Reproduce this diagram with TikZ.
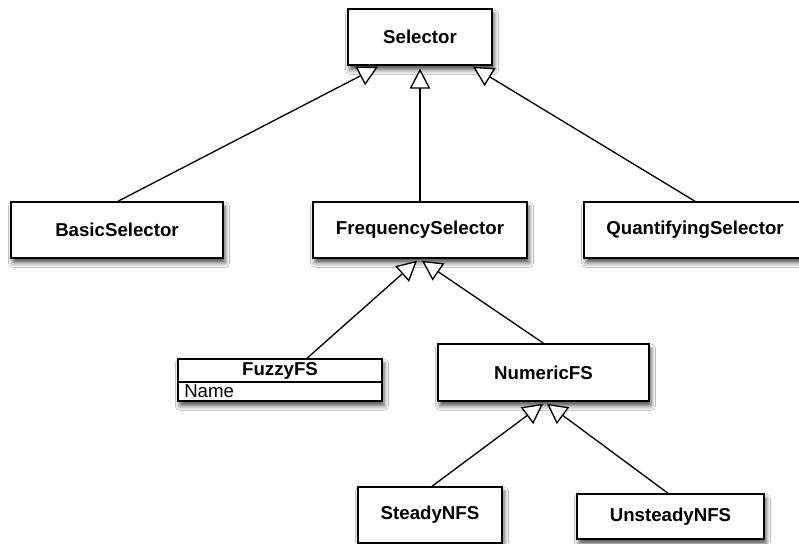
\documentclass[tikz,border=0pt]{standalone}
\usepackage{fontspec}
\setmainfont{Liberation Sans}
\usetikzlibrary{arrows.meta,calc,shadows.blur}
\begin{document}
\begin{tikzpicture}[x=0.75pt,y=-0.75pt,
  cls/.style={draw=black, line width=1.1pt, fill=white, rectangle, inner sep=0pt,
    font=\fontsize{14}{16}\selectfont\bfseries,
    blur shadow={shadow xshift=1.5pt, shadow yshift=-3.5pt, shadow blur radius=3.5pt, shadow opacity=70}},
  gen/.style={line width=1pt, -{Triangle[open,length=15pt,width=15.5pt,fill=white]}},
  txt/.style={inner sep=0pt, font=\fontsize{14}{16}\selectfont}
]
\useasboundingbox (0,0) rectangle (799,543);
\clip (0,0) rectangle (799,543);
\fill[white] (0,0) rectangle (799,543);

\node[cls, minimum width=108pt, minimum height=42pt] (sel) at (420,37) {Selector};
\node[cls, minimum width=159pt, minimum height=42pt] (basic) at (117,230) {BasicSelector};
\node[cls, minimum width=160.5pt, minimum height=42pt] (freq) at (420,230) {FrequencySelector};
\node[cls, minimum width=166.5pt, minimum height=42pt] (quant) at (695,230) {QuantifyingSelector};
\node[cls, minimum width=153pt, minimum height=31.5pt] (fuzzy) at (280,380) {};
\node[txt, font=\fontsize{14}{16}\selectfont\bfseries] (fuzzyname) at (280,370.5) {FuzzyFS};
\node[txt, anchor=west] (fuzzyattr) at (184,391.5) {Name};
\draw[line width=1.1pt] (fuzzy.west |- 0,382) -- (fuzzy.east |- 0,382);
\node[cls, minimum width=158.25pt, minimum height=42.75pt] (numeric) at (543.5,372.5) {NumericFS};
\node[cls, minimum width=108pt, minimum height=42pt] (steady) at (430,515) {SteadyNFS};
\node[cls, minimum width=140.25pt, minimum height=33.75pt] (unsteady) at (670.5,516.5) {UnsteadyNFS};

\draw[gen] ($(basic.north)+(1,0)$) -- ($(sel.south)+(-42,1)$);
\draw[gen] (freq.north) -- ($(sel.south)+(0,3)$);
\draw[gen] (quant.north) -- ($(sel.south)+(53,1)$);
\draw[gen] ($(fuzzy.north)+(27,0)$) -- ($(freq.south)+(-3,2)$);
\draw[gen] (numeric.north) -- ($(freq.south)+(2,2)$);
\draw[gen] ($(steady.north)+(2,0)$) -- ($(numeric.south)+(-0.5,2)$);
\draw[gen] ($(unsteady.north)+(-2.5,0)$) -- ($(numeric.south)+(3.5,2)$);
\end{tikzpicture}
\end{document}
